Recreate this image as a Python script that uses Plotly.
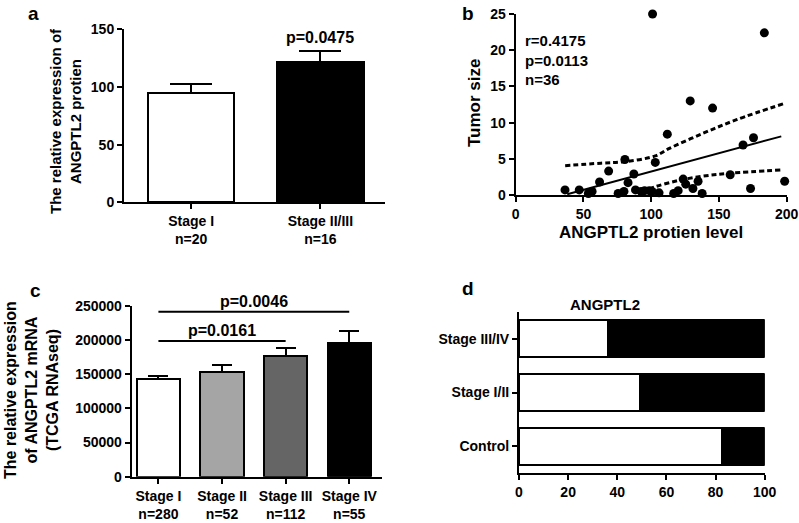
import plotly.graph_objects as go

W, H = 799, 523

# ---------------- data ----------------
# panel a
a_categories = ["Stage I", "Stage II/III"]
a_n = [20, 16]
a_values = [95, 122]
a_errors = [8, 9.5]
a_colors = ["white", "black"]
a_pvalue = "p=0.0475"

# panel b
b_x = [36.4, 46.9, 53.6, 56.4, 61.9, 68.6, 75.6, 79.9, 80.6, 82.9, 87.2, 88.4,
       95.1, 98.6, 103, 105.8, 116.6, 119.9, 123.6, 125.5, 130.8, 134.6, 137.6,
       158.3, 167.8, 173.3, 198.5, 175.5, 111.9, 128.8, 145.3, 101, 183.5, 92.5,
       100.6, 54.5]
b_y = [0.7, 0.7, 0.2, 0.5, 1.8, 3.3, 0.2, 0.5, 4.9, 1.7, 2.9, 0.7,
       0.6, 0.6, 4.5, 0.3, 0.2, 0.6, 2.2, 1.5, 0.9, 1.9, 0.2,
       2.8, 6.9, 0.9, 1.9, 7.9, 8.4, 13.0, 12.0, 25, 22.4, 0.5,
       0.5, 0.3]
b_fit_x = [38, 196]
b_fit_y = [0.1, 8.1]
b_upper_x = [36.5, 63, 80.6, 103, 113, 138, 163, 197.5]
b_upper_y = [4.05, 4.4, 4.6, 5.4, 6.4, 8.5, 10.4, 12.6]
b_lower_x = [93, 103, 120, 138, 158, 195.5]
b_lower_y = [0.45, 1.15, 2.0, 2.6, 3.0, 3.45]
b_stats = ["r=0.4175", "p=0.0113", "n=36"]

# panel c
c_categories = ["Stage I", "Stage II", "Stage III", "Stage IV"]
c_n = [280, 52, 112, 55]
c_values = [143000, 152500, 177000, 195000]
c_errors = [4500, 11500, 11000, 18000]
c_colors = ["white", "#a5a5a5", "#656565", "black"]
c_sig = [  # (from index, to index, y level, label)
    (0, 2, 198400, "p=0.0161"),
    (0, 3, 241200, "p=0.0046"),
]

# panel d
d_categories = ["Control", "Stage I/II", "Stage III/IV"]
d_low = [82.5, 49.4, 36.3]
d_high = [17.5, 50.6, 63.7]
d_title = "ANGPTL2"


def px_x(p):
    return p / W


def px_y(p):
    return 1 - p / H


FONT = "Liberation Sans, Arial, Helvetica, sans-serif"

fig = go.Figure()

# ---------- panel a ----------
a_pos = list(range(len(a_categories)))
fig.add_trace(go.Bar(
    x=a_pos, y=a_values, width=0.67,
    marker=dict(color=a_colors, line=dict(color="black", width=2)),
    error_y=dict(type="data", array=a_errors, arrayminus=[0] * len(a_errors),
                 symmetric=False, color="black", thickness=2, width=21),
    xaxis="x", yaxis="y", showlegend=False,
))
fig.add_annotation(x=a_pos[1], y=a_values[1] + a_errors[1], xref="x", yref="y",
                   text=a_pvalue, showarrow=False, yanchor="bottom", yshift=3,
                   font=dict(size=16))

# ---------- panel b ----------
fig.add_trace(go.Scatter(
    x=b_x, y=b_y, mode="markers", cliponaxis=False,
    marker=dict(color="black", size=9),
    xaxis="x2", yaxis="y2", showlegend=False,
))
fig.add_trace(go.Scatter(x=b_fit_x, y=b_fit_y, mode="lines",
                         line=dict(color="black", width=2),
                         xaxis="x2", yaxis="y2", showlegend=False))
for xs, ys in [(b_upper_x, b_upper_y), (b_lower_x, b_lower_y)]:
    fig.add_trace(go.Scatter(x=xs, y=ys, mode="lines", line_shape="spline",
                             line=dict(color="black", width=3, dash="5px,3px"),
                             xaxis="x2", yaxis="y2", showlegend=False))
fig.add_annotation(x=px_x(523), y=px_y(30), xref="paper", yref="paper",
                   text="<br>".join(b_stats), showarrow=False, align="left",
                   xanchor="left", yanchor="top", font=dict(size=15))

# ---------- panel c ----------
c_pos = list(range(len(c_categories)))
fig.add_trace(go.Bar(
    x=c_pos, y=c_values, width=0.68,
    marker=dict(color=c_colors, line=dict(color="black", width=2)),
    error_y=dict(type="data", array=c_errors, arrayminus=[0] * len(c_errors),
                 symmetric=False, color="black", thickness=2, width=10),
    xaxis="x3", yaxis="y3", showlegend=False,
))
for i0, i1, yl, lab in c_sig:
    fig.add_shape(type="line", x0=c_pos[i0], x1=c_pos[i1], y0=yl, y1=yl,
                  xref="x3", yref="y3", line=dict(color="black", width=2))
    fig.add_annotation(x=(c_pos[i0] + c_pos[i1]) / 2, y=yl, xref="x3", yref="y3",
                       text=lab, showarrow=False, yanchor="bottom", yshift=0,
                       font=dict(size=16))

# ---------- panel d ----------
d_pos = list(range(len(d_categories)))
fig.add_trace(go.Bar(y=d_pos, x=d_low, orientation="h", width=0.70,
                     marker=dict(color="white", line=dict(color="black", width=2)),
                     xaxis="x4", yaxis="y4", showlegend=False))
fig.add_trace(go.Bar(y=d_pos, x=d_high, orientation="h", width=0.70,
                     marker=dict(color="black", line=dict(color="black", width=2)),
                     xaxis="x4", yaxis="y4", showlegend=False))
fig.add_annotation(x=px_x(641.5), y=px_y(304), xref="paper", yref="paper",
                   text=d_title, showarrow=False, yanchor="middle",
                   font=dict(size=15))

# ---------- axis styling ----------
common = dict(showline=True, linecolor="black", linewidth=2, ticks="outside",
              ticklen=5, tickwidth=2, tickcolor="black", showgrid=False,
              zeroline=False, mirror=False, automargin=False,
              tickfont=dict(size=14, color="black", family=FONT, weight="bold"))

layout_axes = dict(
    xaxis=dict(domain=[px_x(124), px_x(385)], anchor="y", range=[-0.52, 1.5],
               tickvals=a_pos,
               ticktext=[f"{c}<br>n={n}" for c, n in zip(a_categories, a_n)],
               **common),
    yaxis=dict(domain=[px_y(202.3), px_y(29.3)], anchor="x", range=[0, 150],
               tickvals=[0, 50, 100, 150], **common),
    xaxis2=dict(domain=[px_x(515.7), px_x(786.7)], anchor="y2", range=[0, 200],
                tickvals=[0, 50, 100, 150, 200], **common),
    yaxis2=dict(domain=[px_y(195), px_y(14)], anchor="x2", range=[0, 25],
                tickvals=[0, 5, 10, 15, 20, 25], **common),
    xaxis3=dict(domain=[px_x(131.7), px_x(381.7)], anchor="y3", range=[-0.42, 3.51],
                tickvals=c_pos,
                ticktext=[f"{c}<br>n={n}" for c, n in zip(c_categories, c_n)],
                **common),
    yaxis3=dict(domain=[px_y(476.7), px_y(305.7)], anchor="x3", range=[0, 250000],
                tickvals=[0, 50000, 100000, 150000, 200000, 250000],
                tickformat="d", **common),
    xaxis4=dict(domain=[px_x(519), px_x(764.7)], anchor="y4", range=[0, 100],
                tickvals=[0, 20, 40, 60, 80, 100], **common),
    yaxis4=dict(domain=[px_y(473.3), px_y(311.7)], anchor="x4", range=[-0.5, 2.5],
                tickvals=d_pos, ticktext=d_categories, **common),
)

# axis titles and panel letters
texts = [
    ("The relative expression of<br>ANGPTL2 protien", 66, 121, -90, 15),
    ("The relative expression<br>of ANGPTL2 mRNA<br>(TCGA RNAseq)", 31, 390, -90, 16),
    ("Tumor size", 474, 103, -90, 17),
    ("ANGPTL2 protien level", 651, 232, 0, 17),
    ("a", 33, 13, 0, 19),
    ("b", 468, 13, 0, 19),
    ("c", 35, 290, 0, 19),
    ("d", 468, 288, 0, 19),
]
for t, x, y, ang, sz in texts:
    fig.add_annotation(x=px_x(x), y=px_y(y), xref="paper", yref="paper", text=t,
                       showarrow=False, textangle=ang, xanchor="center",
                       yanchor="middle", font=dict(size=sz))

fig.update_layout(
    width=W, height=H, margin=dict(l=0, r=0, t=0, b=0, autoexpand=False),
    paper_bgcolor="white", plot_bgcolor="white",
    barmode="stack", bargap=0.3,
    font=dict(family=FONT, size=14, color="black", weight="bold"),
    **layout_axes,
)

fig.write_html(
    "out.html",
    config={"displayModeBar": False},
    post_script="document.body.style.margin='0';document.body.style.padding='0';"
                "document.body.style.overflow='hidden';",
)
